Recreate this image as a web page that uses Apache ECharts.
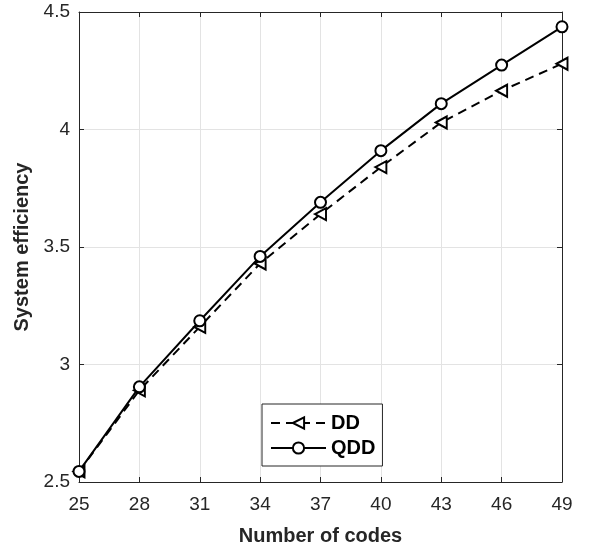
<!DOCTYPE html>
<html>
<head>
<meta charset="utf-8">
<script src="https://cdn.jsdelivr.net/npm/echarts@6/dist/echarts.min.js"></script>
<style>
html,body{margin:0;padding:0;background:#fff;}
#chart{width:595px;height:551px;}
</style>
</head>
<body>
<div id="chart"></div>
<script>
const codes = ['25','28','31','34','37','40','43','46','49'];
const ddValues = [2.545, 2.89, 3.16, 3.43, 3.64, 3.84, 4.03, 4.165, 4.28];
const qddValues = [2.545, 2.905, 3.186, 3.46, 3.69, 3.91, 4.11, 4.274, 4.437];
const yTicks = [2.5, 3, 3.5, 4, 4.5];

const axisColor = '#262626';
const gridColor = '#e3e3e3';
const font = 'Liberation Sans, Arial, Helvetica, sans-serif';
const triLeft = 'path://M0,5 L10,0 L10,10 Z';

const chart = echarts.init(document.getElementById('chart'), null, {renderer: 'canvas'});
chart.setOption({
  animation: false,
  backgroundColor: '#fff',
  grid: {left: 79, right: 33, top: 12, bottom: 69, containLabel: false},
  xAxis: [{
    type: 'category', data: codes, boundaryGap: false, position: 'bottom',
    name: 'Number of codes', nameLocation: 'middle', nameGap: 44,
    nameTextStyle: {fontFamily: font, fontSize: 20, fontWeight: 'bold', color: axisColor},
    axisLine: {show: true, lineStyle: {color: axisColor, width: 1}},
    axisTick: {show: true, inside: true, length: 5, alignWithLabel: true, lineStyle: {color: axisColor}},
    axisLabel: {fontFamily: font, fontSize: 19, color: axisColor, margin: 13},
    splitLine: {show: true, lineStyle: {color: gridColor, width: 1}}
  }, {
    type: 'category', data: codes, boundaryGap: false, position: 'top',
    axisLine: {show: true, onZero: false, lineStyle: {color: axisColor, width: 1}},
    axisTick: {show: true, inside: true, length: 5, lineStyle: {color: axisColor}},
    axisLabel: {show: false}, splitLine: {show: false}
  }],
  yAxis: [{
    type: 'value', min: yTicks[0], max: yTicks[yTicks.length - 1], interval: 0.5, position: 'left',
    name: 'System efficiency', nameLocation: 'middle', nameGap: 42, nameRotate: 90,
    nameTextStyle: {fontFamily: font, fontSize: 20, fontWeight: 'bold', color: axisColor},
    axisLine: {show: true, lineStyle: {color: axisColor, width: 1}},
    axisTick: {show: true, inside: true, length: 5, lineStyle: {color: axisColor}},
    axisLabel: {fontFamily: font, fontSize: 19, color: axisColor, margin: 9,
      formatter: v => String(v)},
    splitLine: {show: true, lineStyle: {color: gridColor, width: 1}}
  }, {
    type: 'value', min: yTicks[0], max: yTicks[yTicks.length - 1], interval: 0.5, position: 'right',
    axisLine: {show: true, onZero: false, lineStyle: {color: axisColor, width: 1}},
    axisTick: {show: true, inside: true, length: 5, lineStyle: {color: axisColor}},
    axisLabel: {show: false}, splitLine: {show: false}
  }],
  legend: {
    orient: 'vertical', left: 262, top: 404,
    padding: [9, 7, 8, 8], itemGap: 5, itemWidth: 55, itemHeight: 14,
    backgroundColor: '#fff', borderColor: axisColor, borderWidth: 1, borderRadius: 0,
    textStyle: {fontFamily: font, fontSize: 20, fontWeight: 'bold', color: '#000', lineHeight: 20},
    data: ['DD', 'QDD']
  },
  series: [{
    name: 'DD', type: 'line', data: ddValues,
    symbol: triLeft, symbolSize: [11, 12], showAllSymbol: true,
    lineStyle: {color: '#000', width: 2, type: [9, 6]},
    itemStyle: {color: '#fff', borderColor: '#000', borderWidth: 2},
    z: 2
  }, {
    name: 'QDD', type: 'line', data: qddValues,
    symbol: 'circle', symbolSize: 11, showAllSymbol: true,
    lineStyle: {color: '#000', width: 2, type: 'solid'},
    itemStyle: {color: '#fff', borderColor: '#000', borderWidth: 2},
    z: 3
  }]
});
</script>
</body>
</html>
